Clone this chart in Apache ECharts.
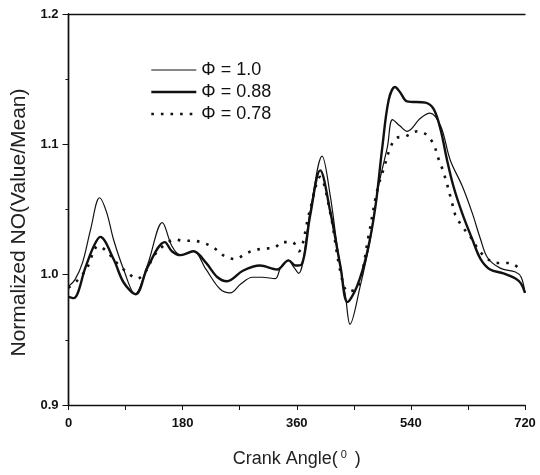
<!DOCTYPE html>
<html>
<head>
<meta charset="utf-8">
<script src="https://cdn.jsdelivr.net/npm/echarts@6/dist/echarts.min.js"></script>
<style>html,body{margin:0;padding:0;background:#fff;width:540px;height:475px;overflow:hidden}#c{width:540px;height:475px}</style>
</head>
<body>
<div id="c"></div>
<script>
var seriesNames = ['\u03A6 = 1.0', '\u03A6 = 0.88', '\u03A6 = 0.78'];
var xTicks = [0, 180, 360, 540, 720];
var yTicks = [0.9, 1.0, 1.1, 1.2];

var angle10 = [0,10,22,35,49,60,71,87,105,125,148,163,177,197,217,239,255,272,290,305,326,335,347,355,363,381,400,413,424,437,444,460,476,489,503,511,523,534,555,570,587,602,621,637,650,661,681,705,714,720];
var value10 = [0.991,0.996,1.009,1.035,1.059,1.048,1.027,1.004,0.985,1.008,1.040,1.022,1.015,1.018,1.004,0.989,0.986,0.993,0.998,0.998,0.997,1.006,1.011,1.006,1.001,1.048,1.091,1.060,1.021,0.983,0.962,0.991,1.027,1.068,1.098,1.119,1.114,1.110,1.120,1.124,1.114,1.088,1.068,1.047,1.027,1.013,1.005,1.002,0.998,0.986];

var angle088 = [0,8,27,40,50,71,87,106,125,152,163,177,197,217,235,250,275,302,329,347,358,368,381,397,413,429,440,455,471,484,495,505,515,523,534,563,576,587,597,607,621,637,650,665,686,705,714,720];
var value088 = [0.983,0.982,1.006,1.022,1.029,1.012,0.994,0.985,1.006,1.025,1.018,1.015,1.018,1.009,0.998,0.995,1.003,1.007,1.004,1.011,1.007,1.008,1.045,1.080,1.048,1.006,0.979,0.991,1.017,1.052,1.098,1.134,1.144,1.140,1.133,1.132,1.127,1.111,1.088,1.068,1.047,1.027,1.012,1.004,1.001,0.997,0.993,0.986];

var angle078 = [0,15,29,47,60,78,92,108,124,134,152,168,181,196,215,231,247,263,279,294,310,326,337,353,363,380,397,413,429,441,457,473,487,497,508,518,531,550,563,576,582,589,595,605,610,621,634,647,661,676,689,702,716];
var value078 = [0.990,0.996,1.005,1.022,1.018,1.008,1.002,0.997,1.004,1.014,1.023,1.027,1.026,1.026,1.024,1.020,1.014,1.012,1.016,1.019,1.020,1.021,1.025,1.025,1.018,1.048,1.075,1.047,1.002,0.987,0.991,1.029,1.065,1.081,1.098,1.105,1.106,1.110,1.108,1.100,1.091,1.082,1.073,1.055,1.046,1.037,1.029,1.019,1.012,1.009,1.009,1.008,1.002];

function pairs(a, v) { return a.map(function (x, i) { return [x, v[i]]; }); }

var FONT = '"Liberation Sans", Arial, sans-serif';
var chart = echarts.init(document.getElementById('c'), null, {renderer: 'canvas', width: 540, height: 475});
var frameAxis = {
  axisLine: {show: true, lineStyle: {color: '#111', width: 1.4}},
  axisTick: {show: false}, axisLabel: {show: false}, splitLine: {show: false}
};
chart.setOption({
  animation: false,
  backgroundColor: '#fff',
  grid: {left: 68.5, right: 15, top: 14, bottom: 70, containLabel: false},
  legend: {
    orient: 'vertical', left: 145, top: 56,
    itemWidth: 45, itemHeight: 14, itemGap: 4,
    itemStyle: {opacity: 0},
    textStyle: {fontFamily: FONT, fontSize: 18, lineHeight: 18, color: '#111'},
    data: [
      {name: seriesNames[0], lineStyle: {width: 1.2}},
      {name: seriesNames[1], lineStyle: {width: 2.6}},
      {name: seriesNames[2], lineStyle: {width: 2.6}}
    ]
  },
  xAxis: [{
    type: 'value', min: 0, max: 720, interval: 180,
    name: 'Crank Angle({sup|0} )', nameLocation: 'middle', nameGap: 44,
    nameTextStyle: {fontFamily: FONT, fontSize: 18, lineHeight: 20, color: '#222',
      rich: {sup: {fontSize: 11, lineHeight: 20, verticalAlign: 'top', padding: [0, 3, 0, 3], fontFamily: FONT, color: '#222'}}},
    axisLine: {show: true, lineStyle: {color: '#111', width: 1.4}},
    axisTick: {show: true, length: 5, lineStyle: {color: '#111'}},
    minorTick: {show: true, splitNumber: 2, length: 5, lineStyle: {color: '#111'}},
    axisLabel: {fontFamily: FONT, fontSize: 13, fontWeight: 'bold', color: '#111', margin: 12,
      formatter: function (v) { return xTicks.indexOf(v) >= 0 ? String(v) : ''; }},
    splitLine: {show: false}
  }, Object.assign({}, frameAxis, {type: 'value', position: 'top', min: 0, max: 720})],
  yAxis: [{
    type: 'value', min: 0.9, max: 1.2, interval: 0.1,
    name: 'Normalized NO(Value/Mean)', nameLocation: 'middle', nameGap: 31,
    nameTextStyle: {fontFamily: FONT, fontSize: 21, color: '#222', padding: [0, 26, 0, 0]},
    axisLine: {show: true, lineStyle: {color: '#111', width: 1.4}},
    axisTick: {show: true, length: 6, lineStyle: {color: '#111'}},
    minorTick: {show: true, splitNumber: 2, length: 3, lineStyle: {color: '#111'}},
    axisLabel: {fontFamily: FONT, fontSize: 13, fontWeight: 'bold', color: '#111', margin: 10,
      formatter: function (v) {
        for (var i = 0; i < yTicks.length; i++) { if (Math.abs(yTicks[i] - v) < 1e-6) return yTicks[i].toFixed(1); }
        return '';
      }},
    splitLine: {show: false}
  }, Object.assign({}, frameAxis, {type: 'value', position: 'right', min: 0.9, max: 1.2})],
  series: [
    {name: seriesNames[0], type: 'line', smooth: 0.35, symbol: 'none', data: pairs(angle10, value10),
      lineStyle: {color: '#111', width: 1.2}, itemStyle: {color: '#111'}},
    {name: seriesNames[1], type: 'line', smooth: 0.35, symbol: 'none', data: pairs(angle088, value088),
      lineStyle: {color: '#111', width: 2.4}, itemStyle: {color: '#111'}},
    {name: seriesNames[2], type: 'line', smooth: 0.35, symbol: 'none', data: pairs(angle078, value078),
      lineStyle: {color: '#111', width: 2.6, type: [2.6, 7]}, itemStyle: {color: '#111'}}
  ]
});
</script>
</body>
</html>
